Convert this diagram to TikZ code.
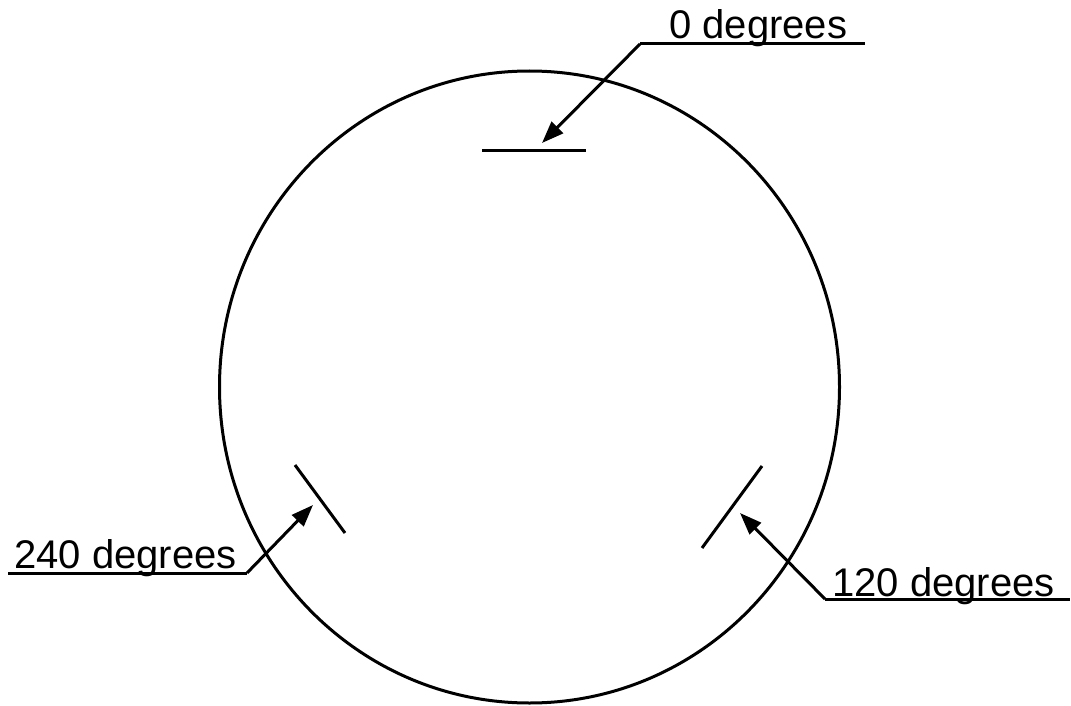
\documentclass[tikz,border=0pt]{standalone}
\usepackage{fontspec}
\setmainfont{Liberation Sans}
\usetikzlibrary{arrows.meta}
\tikzset{
  lbl/.style={inner sep=0pt, anchor=base west, font=\fontsize{40}{48}\selectfont},
  ln/.style={line width=3pt},
  arr/.style={line width=3pt, -{Triangle[length=22pt,width=16pt]}}
}
\begin{document}
\begin{tikzpicture}[x=1pt,y=-1pt]
\useasboundingbox (0,0) rectangle (1071,706);
% circle
\draw[ln] (529.5,387) ellipse [x radius=310, y radius=316];
% marks
\coordinate (m0a) at (482,151);
\coordinate (m0b) at (586,151);
\coordinate (m120a) at (702,548);
\coordinate (m120b) at (762,466);
\coordinate (m240a) at (295,465);
\coordinate (m240b) at (345,533);
\draw[ln] (m0a) -- (m0b);
\draw[ln] (m120a) -- (m120b);
\draw[ln] (m240a) -- (m240b);
% labels
\node[lbl] (l0) at (669,39) {0 degrees};
\node[lbl] (l240) at (14,568) {240 degrees};
\node[lbl] (l120) at (832,596) {120 degrees};
% underlines
\coordinate (u0a) at (640,44);
\coordinate (u0b) at (865,44);
\coordinate (u240a) at (8,573);
\coordinate (u240b) at (247,573);
\coordinate (u120a) at (825,599);
\coordinate (u120b) at (1070,599);
\draw[ln] (u0a) -- (u0b);
\draw[ln] (u240a) -- (u240b);
\draw[ln] (u120a) -- (u120b);
% arrow tips
\coordinate (t0) at (542,143);
\coordinate (t240) at (313,505);
\coordinate (t120) at (740,513);
\draw[arr] (u0a) -- (t0);
\draw[arr] (u240b) -- (t240);
\draw[arr] (u120a) -- (t120);
\end{tikzpicture}
\end{document}
